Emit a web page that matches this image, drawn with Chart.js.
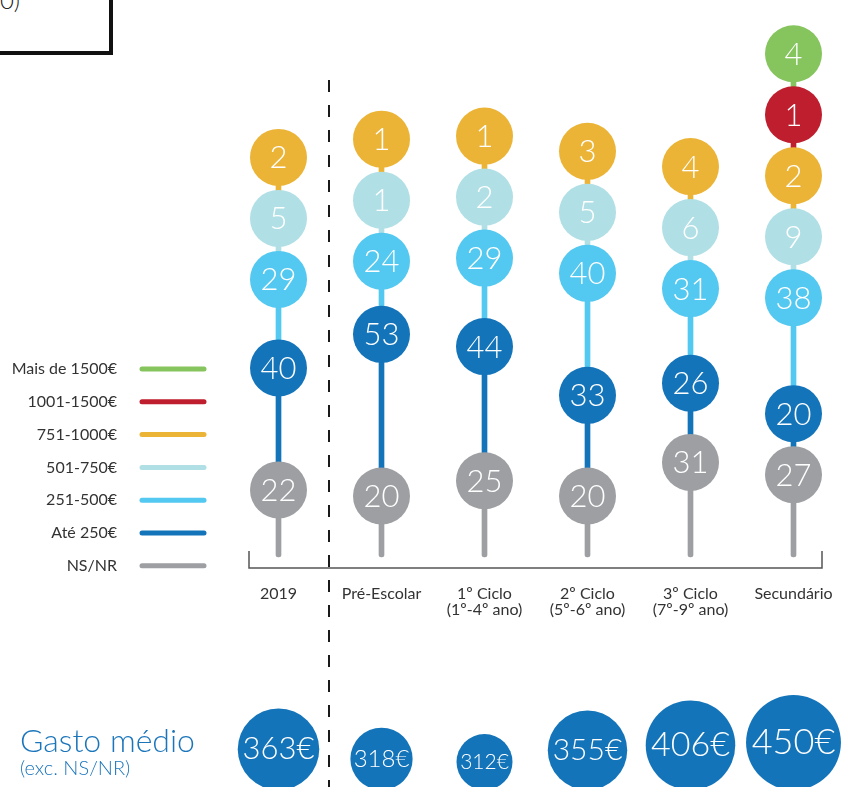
<!DOCTYPE html>
<html>
<head>
<meta charset="utf-8">
<script src="https://cdn.jsdelivr.net/npm/chart.js@4.4.1/dist/chart.umd.min.js"></script>
<style>
  html, body { margin: 0; padding: 0; background: #fff; overflow: hidden; }
  #wrap { position: relative; width: 847px; height: 787px; overflow: hidden; }
  #chart { position: absolute; left: 0; top: 0; }
  .titlebox { position: absolute; left: -20px; top: -40px; width: 133px; height: 95px;
    border: 4.5px solid #111; box-sizing: border-box; }
  .titletext { position: absolute; left: -120px; top: -12px; width: 140px; text-align: right;
    font: 300 24px Lato, sans-serif; line-height: 24px; color: #222; white-space: nowrap; }
</style>
</head>
<body>
<div id="wrap">
  <div class="titlebox"></div>
  <div class="titletext">(N=1000)</div>
  <canvas id="chart" width="847" height="787"></canvas>
</div>
<script>
// categories (columns)
const categories = [["2019"], ["Pré-Escolar"], ["1º Ciclo", "(1º-4º ano)"],
  ["2º Ciclo", "(5º-6º ano)"], ["3º Ciclo", "(7º-9º ano)"], ["Secundário"]];

// spending ranges, bottom to top
const ranges = ["NS/NR", "Até 250€", "251-500€", "501-750€", "751-1000€", "1001-1500€", "Mais de 1500€"];

// % of respondents per range
const nsnr      = [22, 20, 25, 20, 31, 27];
const ate250    = [40, 53, 44, 33, 26, 20];
const de251     = [29, 24, 29, 40, 31, 38];
const de501     = [5, 1, 2, 5, 6, 9];
const de751     = [2, 1, 1, 3, 4, 2];
const de1001    = [null, null, null, null, null, 1];
const mais1500  = [null, null, null, null, null, 4];

// average spend (excluding NS/NR)
const gastoMedio = [363, 318, 312, 355, 406, 450];

const colors = ["#9d9fa2", "#1474ba", "#53c8f0", "#b0dfe5", "#ebb436", "#be1e2d", "#86c45d"];

const series = [nsnr, ate250, de251, de501, de751, de1001, mais1500];

// layout
const H = 787;
const PX = 3.05;          // px per percentage point
const BASE = 557;         // pixel of the 0 line
const GAP = 61 / PX;      // min distance between dots, in units
const DOT_R = 28.5;
const BUB_BOTTOM = 790;
const FONT = "Lato, 'Open Sans', sans-serif";

// dots sit at the cumulative top of their range, pushed up so they don't overlap
const pos = series.map(() => []);
const seg = series.map(() => []);
categories.forEach((c, ci) => {
  let cum = 0, prev = 0, last = null;
  series.forEach((s, si) => {
    const v = s[ci];
    if (v == null) { pos[si][ci] = null; seg[si][ci] = null; return; }
    cum += v;
    const p = last == null ? cum : Math.max(cum, last + GAP);
    pos[si][ci] = p;
    seg[si][ci] = [prev, p];
    prev = p; last = p;
  });
});

const bubbleR = gastoMedio.map(v => 28 + 7.7 * Math.log((v - 300) / 12));
const bubbleY = bubbleR.map(r => (BASE - (BUB_BOTTOM - r)) / PX);

const datasets = [];
series.forEach((s, si) => {
  datasets.push({
    type: "bar", label: ranges[si], data: seg[si], backgroundColor: colors[si],
    barThickness: 5, grouped: false, borderRadius: 2.5, borderSkipped: false, order: 3
  });
});
series.forEach((s, si) => {
  datasets.push({
    type: "line", label: ranges[si], data: pos[si], showLine: false,
    pointRadius: DOT_R, pointHoverRadius: DOT_R, pointBackgroundColor: colors[si],
    pointBorderWidth: 0, order: 2, values: s, isDot: true, clip: false
  });
});
datasets.push({
  type: "line", label: "Gasto médio", data: bubbleY, showLine: false,
  pointRadius: bubbleR, pointHoverRadius: bubbleR, pointBackgroundColor: "#1474ba",
  pointBorderWidth: 0, order: 1, values: gastoMedio, isBubble: true, clip: false
});

const decor = {
  id: "decor",
  beforeDatasetsDraw(chart) {
    const ctx = chart.ctx, x = chart.scales.x;
    const xd = (x.getPixelForValue(0) + x.getPixelForValue(1)) / 2 - 1;
    ctx.save();
    ctx.strokeStyle = "#1a1a1a";
    ctx.lineWidth = 2;
    ctx.setLineDash([12, 13]);
    ctx.beginPath();
    ctx.moveTo(xd, 80);
    ctx.lineTo(xd, H);
    ctx.stroke();
    ctx.setLineDash([]);

    // bracket under the columns
    const x0 = x.getPixelForValue(0) - DOT_R - 1, x1 = x.getPixelForValue(categories.length - 1) + DOT_R;
    ctx.strokeStyle = "#555";
    ctx.lineWidth = 1.5;
    ctx.beginPath();
    ctx.moveTo(x0, 551); ctx.lineTo(x0, 568); ctx.lineTo(x1, 568); ctx.lineTo(x1, 551);
    ctx.stroke();
    ctx.restore();
  },
  afterDatasetsDraw(chart) {
    const ctx = chart.ctx, x = chart.scales.x;
    ctx.save();
    ctx.textAlign = "center";
    ctx.textBaseline = "middle";
    ctx.fillStyle = "#fff";
    chart.data.datasets.forEach((ds, i) => {
      if (!ds.isDot && !ds.isBubble) return;
      chart.getDatasetMeta(i).data.forEach((pt, j) => {
        const v = ds.values[j];
        if (v == null) return;
        if (ds.isDot) {
          ctx.font = "300 31px " + FONT;
          ctx.fillText(String(v), pt.x, pt.y + 1);
        } else {
          const r = bubbleR[j];
          ctx.font = "300 " + Math.round(r * 0.76) + "px " + FONT;
          ctx.fillText(v + "€", pt.x, pt.y);
        }
      });
    });

    // category labels
    ctx.fillStyle = "#333";
    ctx.font = "16px " + FONT;
    categories.forEach((lines, i) => {
      const cx = x.getPixelForValue(i);
      lines.forEach((t, k) => ctx.fillText(t, cx, 594 + k * 15.5));
    });

    // legend
    ctx.textAlign = "right";
    ctx.font = "16px " + FONT;
    ctx.lineCap = "round";
    ctx.lineWidth = 5;
    for (let k = 0; k < ranges.length; k++) {
      const si = ranges.length - 1 - k;
      const y = 369 + k * 32.8;
      ctx.fillStyle = "#333";
      ctx.fillText(ranges[si], 117, y);
      ctx.strokeStyle = colors[si];
      ctx.beginPath();
      ctx.moveTo(142, y); ctx.lineTo(204, y);
      ctx.stroke();
    }

    // bottom row title
    ctx.textAlign = "left";
    ctx.textBaseline = "alphabetic";
    ctx.fillStyle = "#1a75bb";
    ctx.font = "300 32px " + FONT;
    ctx.fillText("Gasto médio", 20, 752);
    ctx.font = "300 20px " + FONT;
    ctx.fillText("(exc. NS/NR)", 20, 775);
    ctx.restore();
  }
};

new Chart(document.getElementById("chart").getContext("2d"), {
  type: "bar",
  data: { labels: categories, datasets },
  options: {
    responsive: false,
    animation: false,
    devicePixelRatio: 1,
    layout: { autoPadding: false, padding: { left: 227, right: 2, top: 0, bottom: 0 } },
    plugins: { legend: { display: false }, tooltip: { enabled: false } },
    scales: {
      x: { type: "category", offset: true, display: false },
      y: { min: -(H - BASE) / PX, max: BASE / PX, display: false }
    }
  },
  plugins: [decor]
});
</script>
</body>
</html>
